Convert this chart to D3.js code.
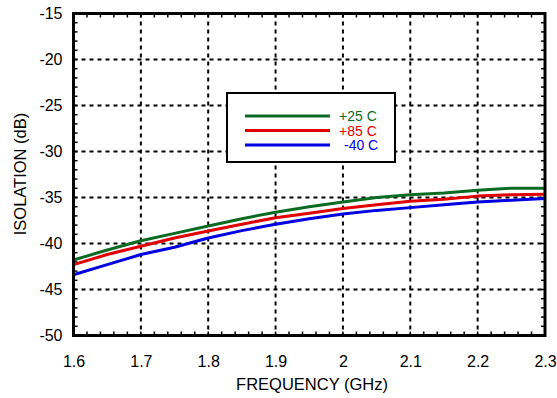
<!DOCTYPE html>
<html><head><meta charset="utf-8">
<script src="https://cdn.jsdelivr.net/npm/d3@7"></script>
<style>body{margin:0;background:#fff}svg{display:block}text{font-family:"Liberation Sans",Arial,sans-serif}</style>
</head><body><svg id="c" width="557" height="398"></svg>
<script>
const freq = [1.6,1.65,1.7,1.75,1.8,1.85,1.9,1.95,2.0,2.05,2.1,2.15,2.2,2.25,2.3];
const iso25 = [-41.8,-40.7,-39.7,-38.9,-38.1,-37.3,-36.6,-36.0,-35.5,-35.0,-34.7,-34.5,-34.2,-34.0,-34.0];
const iso85 = [-42.3,-41.2,-40.3,-39.4,-38.65,-37.9,-37.2,-36.7,-36.2,-35.8,-35.4,-35.2,-34.85,-34.7,-34.65];
const isoM40 = [-43.4,-42.3,-41.2,-40.4,-39.4,-38.6,-37.9,-37.3,-36.8,-36.4,-36.1,-35.8,-35.5,-35.3,-35.1];
const xTicks = [1.6,1.7,1.8,1.9,2.0,2.1,2.2,2.3];
const yTicks = [-50,-45,-40,-35,-30,-25,-20,-15];
const xTickLabels = ["1.6","1.7","1.8","1.9","2","2.1","2.2","2.3"];
const yTickLabels = ["-50","-45","-40","-35","-30","-25","-20","-15"];
const seriesNames = ["+25 C","+85 C","-40 C"];
const seriesColors = ["#0b6b22","#e00000","#0000e0"];
const series = [iso25, iso85, isoM40];

const svg = d3.select("#c");
const L=73.5, R=545, T=13.5, B=335.5;
const x = d3.scaleLinear().domain([1.6,2.3]).range([L,R]);
const y = d3.scaleLinear().domain([-50,-15]).range([B,T]);

// grid
const g = svg.append("g");
g.selectAll(".gx").data(xTicks.slice(1,-1)).enter().append("line")
 .attr("x1",d=>x(d)).attr("x2",d=>x(d)).attr("y1",T).attr("y2",B)
 .attr("stroke","#000").attr("stroke-width",2).attr("stroke-dasharray","4,4");
g.selectAll(".gy").data(yTicks.slice(1,-1)).enter().append("line")
 .attr("y1",d=>y(d)).attr("y2",d=>y(d)).attr("x1",L).attr("x2",R)
 .attr("stroke","#000").attr("stroke-width",2).attr("stroke-dasharray","4,4");

// minor ticks
const xMinor = d3.range(0,36).map(i=>1.6+i*0.02).filter(v=>v<2.3+1e-9);
const yMinor = d3.range(-50,-14,1);
const tl=4;
xMinor.forEach(v=>{
  g.append("line").attr("x1",x(v)).attr("x2",x(v)).attr("y1",B).attr("y2",B-tl).attr("stroke","#000").attr("stroke-width",1.5);
  g.append("line").attr("x1",x(v)).attr("x2",x(v)).attr("y1",T).attr("y2",T+tl).attr("stroke","#000").attr("stroke-width",1.5);
});
yMinor.forEach(v=>{
  g.append("line").attr("x1",L).attr("x2",L+tl).attr("y1",y(v)).attr("y2",y(v)).attr("stroke","#000").attr("stroke-width",1.5);
  g.append("line").attr("x1",R).attr("x2",R-tl).attr("y1",y(v)).attr("y2",y(v)).attr("stroke","#000").attr("stroke-width",1.5);
});

// lines
const line = d3.line().x((d,i)=>x(freq[i])).y(d=>y(d));
series.slice().reverse().forEach((s,j)=>{
  const i = series.length-1-j;
  svg.append("path").datum(s).attr("d",line).attr("fill","none")
   .attr("stroke",seriesColors[i]).attr("stroke-width",3).attr("stroke-linejoin","round");
});

// frame
svg.append("rect").attr("x",L).attr("y",T).attr("width",R-L).attr("height",B-T)
 .attr("fill","none").attr("stroke","#000").attr("stroke-width",3);

// axes labels
const xa = d3.axisBottom(x).tickValues(xTicks).tickFormat((d,i)=>xTickLabels[i]).tickSize(0).tickPadding(20);
const xg = svg.append("g").attr("transform",`translate(0,${B})`).call(xa);
xg.select(".domain").remove();
xg.selectAll("text").attr("font-size",16).attr("fill","#000").style("font-family","Liberation Sans, Arial, sans-serif");
const ya = d3.axisLeft(y).tickValues(yTicks).tickFormat((d,i)=>yTickLabels[i]).tickSize(0).tickPadding(11);
const yg = svg.append("g").attr("transform",`translate(${L},0)`).call(ya);
yg.select(".domain").remove();
yg.selectAll("text").attr("font-size",16).attr("fill","#000").style("font-family","Liberation Sans, Arial, sans-serif");

svg.append("text").attr("x",312).attr("y",390).attr("text-anchor","middle").attr("font-size",16.5).text("FREQUENCY (GHz)");
svg.append("text").attr("transform",`translate(26,${174}) rotate(-90)`).attr("text-anchor","middle").attr("font-size",16.5).text("ISOLATION (dB)");

// legend
const lg = svg.append("g");
lg.append("rect").attr("x",227).attr("y",93).attr("width",168).attr("height",69).attr("fill","#fff").attr("stroke","#000").attr("stroke-width",2);
seriesNames.forEach((n,i)=>{
  const yy = 116 + i*14.5;
  lg.append("line").attr("x1",245).attr("x2",330).attr("y1",yy).attr("y2",yy).attr("stroke",seriesColors[i]).attr("stroke-width",3);
  lg.append("text").attr("x",i==2?344:339).attr("y",yy+5).attr("font-size",14).attr("fill",seriesColors[i]).text(n);
});
</script></body></html>
